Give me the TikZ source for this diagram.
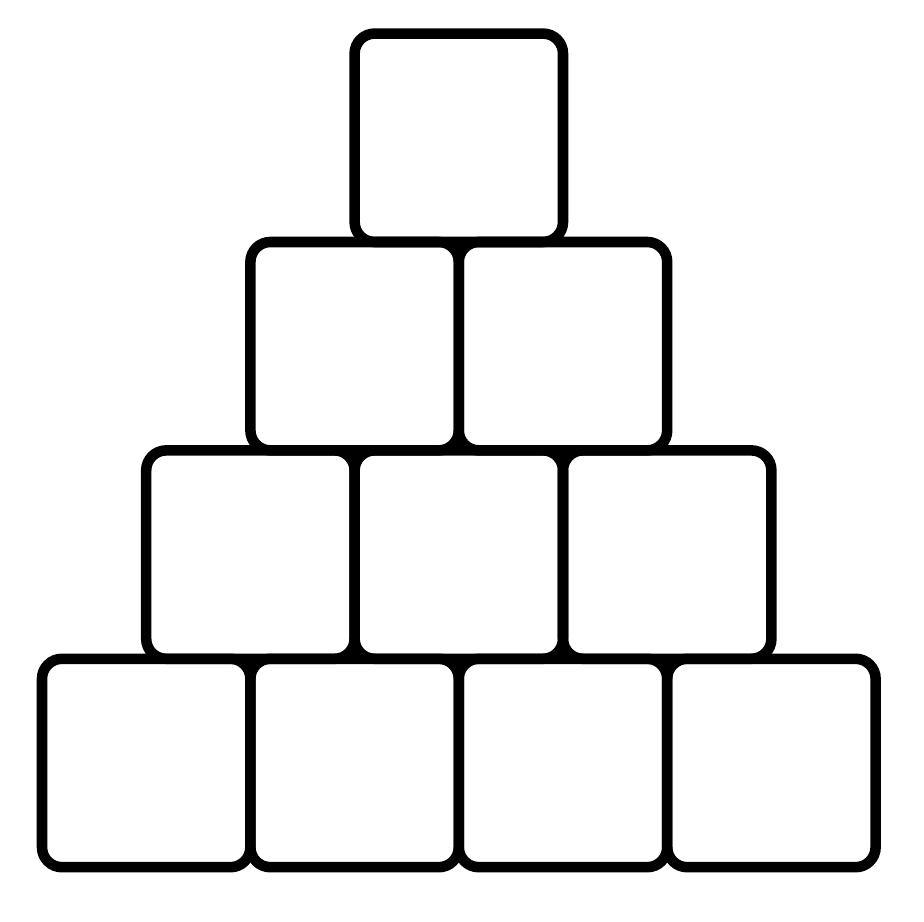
\documentclass[tikz,border=0pt]{standalone}
\usepackage{tikz}

\begin{document}
\begin{tikzpicture}[block/.style={draw, line width=3pt, rounded corners=0.2cm, rectangle, minimum size=2.084cm, inner sep=0pt}]
  \useasboundingbox (0,0) rectangle (9.24,9.21);

  % bottom row
  \node[block] (b41) at (1.462,1.58) {};
  \node[block] (b42) at (3.546,1.58) {};
  \node[block] (b43) at (5.630,1.58) {};
  \node[block] (b44) at (7.714,1.58) {};

  \node[block] (b31) at (2.504,3.664) {};
  \node[block] (b32) at (4.588,3.664) {};
  \node[block] (b33) at (6.672,3.664) {};

  \node[block] (b21) at (3.546,5.748) {};
  \node[block] (b22) at (5.630,5.748) {};

  % top
  \node[block] (b11) at (4.588,7.832) {};
\end{tikzpicture}
\end{document}
